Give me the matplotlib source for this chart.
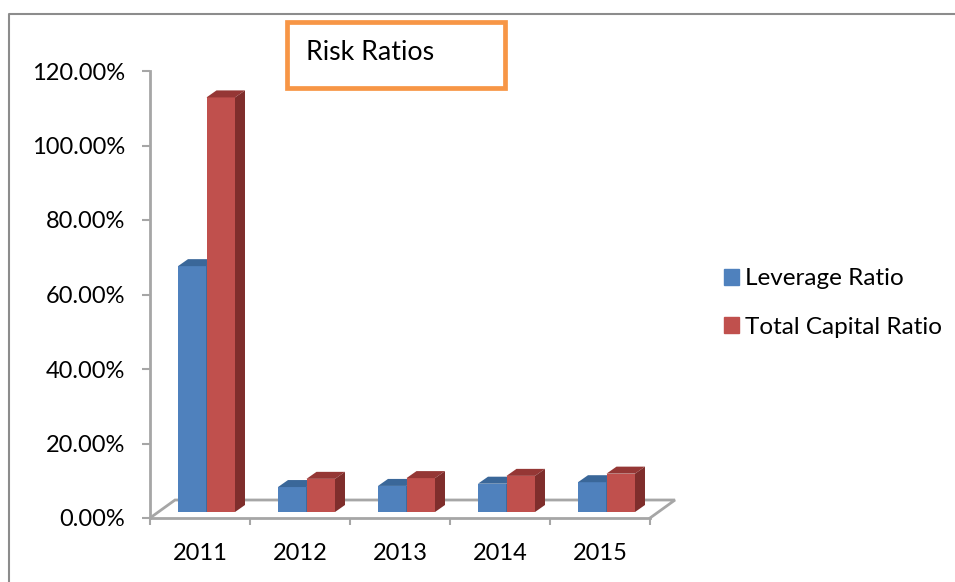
import matplotlib
matplotlib.use("Agg")
import matplotlib.pyplot as plt
from matplotlib.patches import Patch, Polygon, Rectangle
from matplotlib.lines import Line2D
import numpy as np

plt.rcParams["font.family"] = ["Lato", "DejaVu Sans"]

anos = ["2011", "2012", "2013", "2014", "2015"]
leverage = [66.0, 6.7, 7.0, 7.6, 8.0]
total_capital = [111.3, 8.9, 9.1, 9.7, 10.3]
yticks = [0, 20, 40, 60, 80, 100, 120]

W, H = 955, 582
GRAY = "#a6a6a6"
BLUE, BLUE_TOP, BLUE_SIDE = "#4f81bd", "#3a6799", "#2f5580"
RED, RED_TOP, RED_SIDE = "#c0504d", "#953735", "#7f2e2c"

fig = plt.figure(figsize=(W / 100, H / 100), dpi=100)
# plot area: x 150..650, y 518..71 in pixels
ax = fig.add_axes([150 / W, 1 - 518 / H, 500 / W, 447 / H])
ax.set_xlim(0, 5)
ax.set_ylim(0, 120)
ax.patch.set_visible(False)

px_x = 5 / 500
px_y = 120 / 447


def barra_3d(x0, largura, valor, cor, cor_topo, cor_lado, z):
    base = 6 * px_y
    dx, dy = 10 * px_x, 7 * px_y
    x1 = x0 + largura
    topo = base + valor
    ax.bar(x0, valor, largura, bottom=base, align="edge", color=cor, linewidth=0, zorder=z)
    ax.add_patch(Polygon([(x0, topo), (x0 + dx, topo + dy), (x1 + dx, topo + dy), (x1, topo)],
                         color=cor_topo, linewidth=0, zorder=z))
    ax.add_patch(Polygon([(x1, base), (x1 + dx, base + dy), (x1 + dx, topo + dy), (x1, topo)],
                         color=cor_lado, linewidth=0, zorder=z))


larg = 0.285
for i in range(len(anos)):
    barra_3d(i + 0.28, larg, leverage[i], BLUE, BLUE_TOP, BLUE_SIDE, 3)
    barra_3d(i + 0.28 + larg, larg, total_capital[i], RED, RED_TOP, RED_SIDE, 4)

# floor of the 3d chart
fx, fy = 25 * px_x, 18 * px_y
ax.plot([0, fx, 5 + fx, 5], [0, fy, fy, 0], color=GRAY, lw=2, clip_on=False, zorder=2,
        solid_joinstyle="miter")

for lado in ["top", "right"]:
    ax.spines[lado].set_visible(False)
for lado in ["left", "bottom"]:
    ax.spines[lado].set_color(GRAY)
    ax.spines[lado].set_linewidth(2)
ax.set_xticks(np.arange(6))
ax.set_xticklabels([""] * 6)
ax.set_xticks(np.arange(5) + 0.5, minor=True)
ax.set_xticklabels(anos, minor=True, fontsize=17)
ax.tick_params(axis="x", which="minor", length=0, pad=18, labelcolor="black")
ax.tick_params(axis="x", which="major", length=5, width=1.5, color=GRAY)
ax.set_yticks(yticks)
ax.set_yticklabels([f"{v:.2f}%" for v in yticks], fontsize=17)
ax.tick_params(axis="y", length=5.8, width=1.5, color=GRAY, pad=12, labelcolor="black")

# outer border of the chart
fig.add_artist(Line2D([9 / W, 9 / W, 1], [0, 1 - 14 / H, 1 - 14 / H], color="#8c8c8c", lw=1.5))

# title box
fig.add_artist(Rectangle((286.5 / W, 1 - 88 / H), 218 / W, 66 / H, fill=False,
                         edgecolor="#f79646", lw=3.4, transform=fig.transFigure))
fig.text(306 / W, 1 - 52 / H, "Risk Ratios", fontsize=19.3, va="center", ha="left", color="black")

handles = [Patch(color=BLUE, label="Leverage Ratio"), Patch(color=RED, label="Total Capital Ratio")]
fig.legend(handles=handles, loc="center left", bbox_to_anchor=(717 / W, 1 - 303 / H), frameon=False,
           fontsize=17.5, handlelength=0.62, handleheight=0.62, handletextpad=0.25, labelspacing=1.12,
           borderpad=0.3, borderaxespad=0)

fig.savefig("out.png", dpi=100)
